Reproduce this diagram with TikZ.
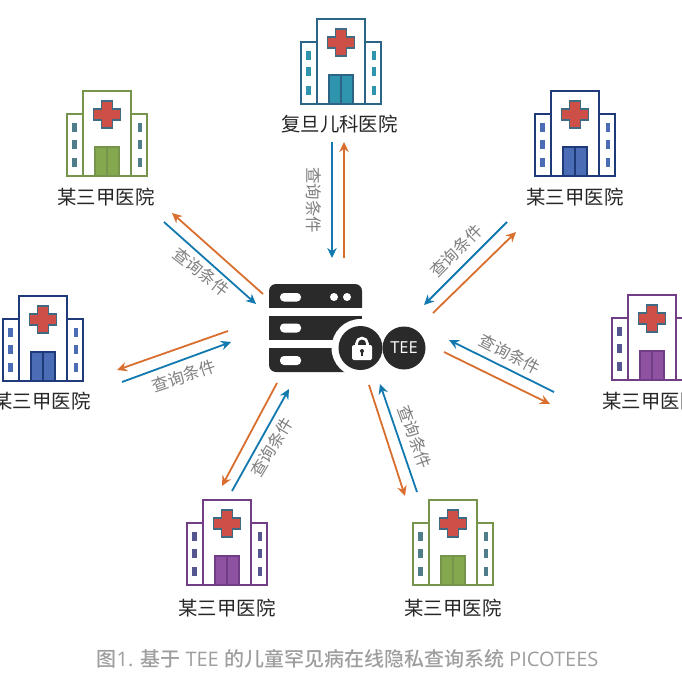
\documentclass[tikz,border=0pt]{standalone}
\usepackage{fontspec}
\setmainfont{Noto Sans CJK SC}
\newfontfamily\latf{Open Sans}
\newfontfamily\capfont{Noto Sans CJK SC Medium}
\usetikzlibrary{arrows.meta}
\definecolor{cOra}{HTML}{D96F2E}
\definecolor{cBlu}{HTML}{1279AE}
\definecolor{cRed}{HTML}{CE4F48}
\definecolor{cCrossB}{HTML}{3D6C82}
\definecolor{tealO}{HTML}{2B6484}
\definecolor{tealD}{HTML}{2F94AE}
\definecolor{greenO}{HTML}{76944C}
\definecolor{greenD}{HTML}{84A84D}
\definecolor{greenW}{HTML}{4F7E8A}
\definecolor{navyO}{HTML}{1F3A78}
\definecolor{navyD}{HTML}{4A6DB6}
\definecolor{purO}{HTML}{713D85}
\definecolor{purD}{HTML}{8F52A3}
\definecolor{purW}{HTML}{55558F}
\definecolor{srv}{HTML}{2A2A2A}
\tikzset{
  x=1pt,y=-1pt,
  wire/.style={line width=1.8pt,-{Stealth[length=10pt,width=9.5pt]}},
  toserver/.style={wire,draw=cBlu},
  fromserver/.style={wire,draw=cOra},
  hname/.style={font=\fontsize{19.4}{21}\selectfont,text=black!85,inner sep=0pt},
  qlabel/.style={font=\fontsize{16.5}{18}\selectfont,text=black!50,inner sep=0pt},
  pill/.style={fill=white,rounded corners=4pt},
}
% name, cx, top, outline, door, window
\newcommand{\hospital}[6]{%
  \begin{scope}[shift={(#2,#3)}]
    \draw[#4,line width=2.3pt,fill=white] (-40,23) rectangle (40,85);
    \draw[#4,line width=2.3pt,fill=white] (-24,0) rectangle (24,85);
    \fill[cRed,draw=cCrossB,line width=1.5pt]
      (-5.5,10) -- (5.5,10) -- (5.5,18) -- (13.5,18) -- (13.5,29) -- (5.5,29) -- (5.5,37)
      -- (-5.5,37) -- (-5.5,29) -- (-13.5,29) -- (-13.5,18) -- (-5.5,18) -- cycle;
    \draw[#4,line width=2.3pt,fill=#5] (-12,56) rectangle (12,85);
    \draw[#4,line width=2.3pt] (0,56) -- (0,85);
    \foreach \wy in {36.5,53,71.5}{
      \fill[#6] (-35,\wy-4.5) rectangle (-30.5,\wy+4.5);
      \fill[#6] (30.5,\wy-4.5) rectangle (35,\wy+4.5);
    }
    \coordinate (#1) at (0,42);
  \end{scope}%
}
\begin{document}
\begin{tikzpicture}
\useasboundingbox (0,0) rectangle (682,682);
\clip (0,0) rectangle (682,682);
\fill[white] (0,0) rectangle (682,682);

\hospital{hTop}{341}{19}{tealO}{tealD}{tealD}
\hospital{hTL}{107}{91}{greenO}{greenD}{greenW}
\hospital{hTR}{575}{91}{navyO}{navyD}{navyD}
\hospital{hL}{43}{296}{navyO}{navyD}{navyD}
\hospital{hR}{652}{295}{purO}{purD}{purW}
\hospital{hBL}{227}{500}{purO}{purD}{purW}
\hospital{hBR}{453}{500}{greenO}{greenD}{greenW}

\node[hname] (nTop) at (339.5,124) {复旦儿科医院};
\node[hname] (nTL) at (106,197) {某三甲医院};
\node[hname] (nTR) at (575,197) {某三甲医院};
\node[hname] (nL) at (42,401) {某三甲医院};
\node[hname] (nR) at (651,401) {某三甲医院};
\node[hname] (nBL) at (227,608) {某三甲医院};
\node[hname] (nBR) at (453,608) {某三甲医院};

% server
\begin{scope}
\clip (260,280) rectangle (370,376);
\fill[srv,rounded corners=7pt] (269,284) rectangle (362,320);
\fill[white] (262,308) rectangle (370,316);
\fill[srv] (269,316) rectangle (362,340);
\fill[srv,rounded corners=7pt] (269,335) rectangle (362,372);
\fill[white] (262,340) rectangle (370,348);
\end{scope}
\fill[pill] (280,293) rectangle (301,301.5);
\fill[pill] (280,323.5) rectangle (301,332.5);
\fill[pill] (280,356) rectangle (301,365);
\fill[white] (334,297) circle[radius=4];
\fill[white] (347,297) circle[radius=4];
\fill[white] (360.5,348) circle[radius=29];
\node[circle,fill=srv,minimum size=44pt,inner sep=0pt] (lockC) at (360.5,348) {};
\node[circle,fill=srv,minimum size=43pt,inner sep=0pt,text=white,font=\latf\fontsize{16.5}{18}\selectfont] (tee) at (404,348) {TEE};
\draw[white,line width=2.6pt] (356.5,346) -- (356.5,343.5) arc[start angle=180,end angle=360,radius=5.5] -- (367.5,346);
\fill[white,rounded corners=1.5pt] (352,345) rectangle (372,360);
\fill[srv] (362,351) circle[radius=2];
\draw[srv,line width=1.3pt] (362,351) -- (362,356);

% connector ends
\coordinate (a1) at (332,142); \coordinate (a2) at (332,258);
\coordinate (b1) at (344,258); \coordinate (b2) at (344,142);
\coordinate (c1) at (164,222); \coordinate (c2) at (256,304);
\coordinate (d1) at (263,294); \coordinate (d2) at (172,213);
\coordinate (e1) at (507,222); \coordinate (e2) at (424,305);
\coordinate (f1) at (433,313); \coordinate (f2) at (516,232);
\coordinate (g1) at (122,382); \coordinate (g2) at (231,342);
\coordinate (h1) at (228,331); \coordinate (h2) at (117,370);
\coordinate (i1) at (554,392); \coordinate (i2) at (449,340);
\coordinate (j1) at (444,352); \coordinate (j2) at (550,404);
\coordinate (k1) at (232,491); \coordinate (k2) at (289,389);
\coordinate (l1) at (277,383); \coordinate (l2) at (222,486);
\coordinate (m1) at (417,492); \coordinate (m2) at (380,384);
\coordinate (n1) at (369,385); \coordinate (n2) at (405,496);

\draw[toserver] (a1) -- (a2); \draw[fromserver] (b1) -- (b2);
\draw[toserver] (c1) -- (c2); \draw[fromserver] (d1) -- (d2);
\draw[toserver] (e1) -- (e2); \draw[fromserver] (f1) -- (f2);
\draw[toserver] (g1) -- (g2); \draw[fromserver] (h1) -- (h2);
\draw[toserver] (i1) -- (i2); \draw[fromserver] (j1) -- (j2);
\draw[toserver] (k1) -- (k2); \draw[fromserver] (l1) -- (l2);
\draw[toserver] (m1) -- (m2); \draw[fromserver] (n1) -- (n2);

\node[qlabel,rotate=-90] (q1) at (314,200) {查询条件};
\node[qlabel,rotate=-38] (q2) at (201,272) {查询条件};
\node[qlabel,rotate=45] (q3) at (456,251) {查询条件};
\node[qlabel,rotate=18] (q4) at (184,376) {查询条件};
\node[qlabel,rotate=-27] (q5) at (510,354) {查询条件};
\node[qlabel,rotate=59] (q6) at (272,447) {查询条件};
\node[qlabel,rotate=-70] (q7) at (415,437) {查询条件};

\node[inner sep=0pt,font=\capfont\fontsize{20}{22}\selectfont,text=black!38] (cap) at (347.5,659)
  {图{\latf 1. }基于{\latf\ TEE }的儿童罕见病在线隐私查询系统{\latf\ PICOTEES}};
\end{tikzpicture}
\end{document}
